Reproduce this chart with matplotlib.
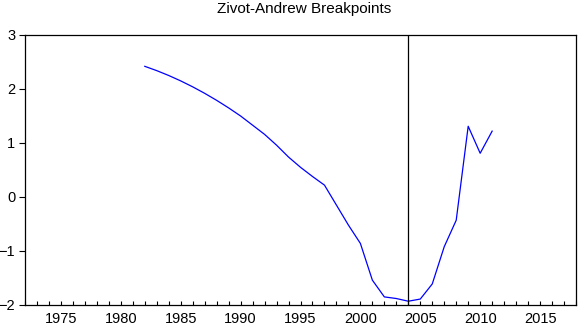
import matplotlib
matplotlib.use("Agg")
import matplotlib.pyplot as plt
from matplotlib.ticker import MultipleLocator

plt.rcParams['font.family'] = ['Liberation Sans', 'DejaVu Sans']

years = list(range(1982, 2012))
values = [2.42, 2.34, 2.25, 2.15, 2.04, 1.92, 1.79, 1.65, 1.50, 1.33,
          1.16, 0.96, 0.74, 0.55, 0.38, 0.22, -0.15, -0.52, -0.86, -1.54,
          -1.85, -1.88, -1.93, -1.89, -1.61, -0.92, -0.43, 1.31, 0.81, 1.22]
breakpoint_year = 2004
title = "Zivot-Andrew Breakpoints"
xtick_labels = [1975, 1980, 1985, 1990, 1995, 2000, 2005, 2010, 2015]
ytick_labels = [-2, -1, 0, 1, 2, 3]

fig = plt.figure(figsize=(5.81, 3.29), dpi=100)
ax = fig.add_axes([25/581, 1-305/329, (576-25)/581, (305-35)/329])
ax.plot(years, values, color='#0000ff', linewidth=0.9)
ax.axvline(breakpoint_year, color='black', linewidth=0.9)
ax.set_xlim(1972, 2018)
ax.set_ylim(-2, 3)
ax.set_xticks(xtick_labels)
ax.xaxis.set_minor_locator(MultipleLocator(1))
ax.set_yticks(ytick_labels)
ax.tick_params(axis='x', which='both', direction='in', length=3, width=0.8,
               labelsize=10.5, pad=5, colors='black')
ax.tick_params(axis='y', which='both', direction='out', length=4, width=0.8,
               labelsize=10.5, pad=3)
for s in ax.spines.values():
    s.set_linewidth(0.9)
fig.text(304/581, 1-9.5/329, title, fontsize=11, ha='center', va='center')
fig.savefig("out.png", dpi=100)
